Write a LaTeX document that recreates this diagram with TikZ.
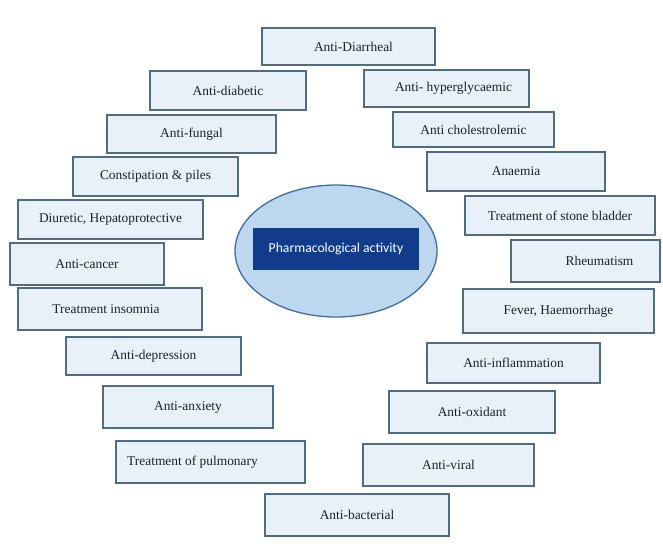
\documentclass[tikz,border=0pt]{standalone}
\usepackage{fontspec}
\setmainfont{Liberation Serif}
\newfontfamily\labelfont{Carlito}
\usepackage{tikz}
\usetikzlibrary{shapes.geometric}
\definecolor{boxfill}{HTML}{E8F1F8}
\definecolor{boxline}{HTML}{516B80}
\definecolor{boxtext}{HTML}{18222E}
\definecolor{hubfill}{HTML}{BDD7EE}
\definecolor{hubline}{HTML}{3F6E9C}
\definecolor{navy}{HTML}{113C8C}

\begin{document}
\begin{tikzpicture}[
    x=1pt, y=-1pt,
    item/.style={draw=boxline, line width=1.1pt, fill=boxfill, inner sep=0pt, align=center, font=\fontsize{13.4}{15}\selectfont, text=boxtext},
    hub/.style={ellipse, draw=hubline, line width=1.3pt, fill=hubfill, inner sep=0pt},
    title/.style={fill=navy, inner sep=0pt, minimum width=166, minimum height=42, font=\labelfont\fontsize{13.7}{15}\selectfont, text=white}
]
\useasboundingbox (0,0) rectangle (663,550);

% centre
\node[hub, minimum width=202, minimum height=132] (hub) at (336,251) {};
\node[title] (pharma) at (336,249) {Pharmacological activity};

% left column, top to bottom
\node[item, minimum width=173, minimum height=37] (diarrheal) at (348.5,46.5) {\hspace*{10pt}Anti-Diarrheal};
\node[item, minimum width=156, minimum height=39] (diabetic) at (228,90.5) {Anti-diabetic};
\node[item, minimum width=169, minimum height=38] (fungal) at (191.5,134) {Anti-fungal};
\node[item, minimum width=165, minimum height=39] (constipation) at (155.5,176.5) {Constipation \& piles};
\node[item, minimum width=185, minimum height=39] (diuretic) at (110.5,219.5) {Diuretic, Hepatoprotective};
\node[item, minimum width=154, minimum height=42] (cancer) at (87,264) {Anti-cancer};
\node[item, minimum width=184, minimum height=42] (insomnia) at (110,309) {Treatment insomnia\hspace*{8pt}};
\node[item, minimum width=175, minimum height=38] (depression) at (153.5,356) {Anti-depression};
\node[item, minimum width=170, minimum height=42] (anxiety) at (188,407) {Anti-anxiety};
\node[item, minimum width=189, minimum height=42] (pulmonary) at (210.5,462) {Treatment of pulmonary\hspace*{36pt}};
\node[item, minimum width=184, minimum height=42] (bacterial) at (357,515) {Anti-bacterial};

% right column, top to bottom
\node[item, minimum width=165, minimum height=37] (hyperglycaemic) at (446.5,88.5) {\hspace*{14pt}Anti- hyperglycaemic};
\node[item, minimum width=161, minimum height=35] (cholestrolemic) at (473.5,129.5) {Anti cholestrolemic};
\node[item, minimum width=178, minimum height=39] (anaemia) at (516,171.5) {Anaemia};
\node[item, minimum width=190, minimum height=39] (stone) at (560,215.5) {Treatment of stone bladder};
\node[item, minimum width=149, minimum height=42] (rheumatism) at (585.5,261) {\hspace*{28pt}Rheumatism};
\node[item, minimum width=191, minimum height=44] (fever) at (558.5,311) {Fever, Haemorrhage};
\node[item, minimum width=173, minimum height=40] (inflammation) at (513.5,363) {Anti-inflammation};
\node[item, minimum width=166, minimum height=42] (oxidant) at (472,412) {Anti-oxidant};
\node[item, minimum width=171, minimum height=42] (viral) at (448.5,465) {Anti-viral};

\end{tikzpicture}
\end{document}
